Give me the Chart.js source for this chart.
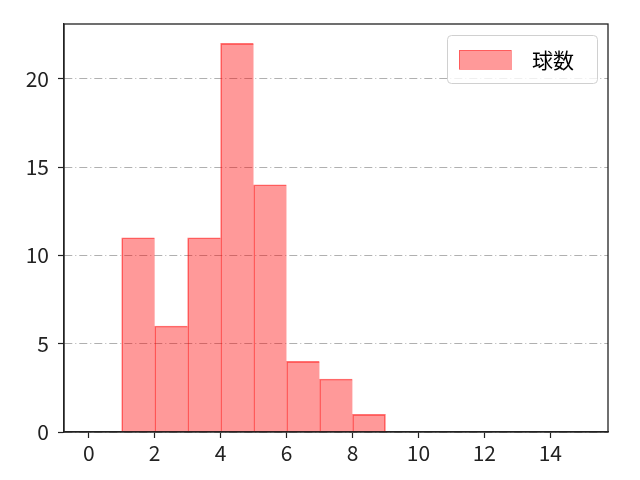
<!DOCTYPE html>
<html><head><meta charset="utf-8">
<script src="https://cdn.jsdelivr.net/npm/chart.js@4"></script>
<style>html,body{margin:0;padding:0;background:#fff}#wrap{width:640px;height:480px}</style>
</head><body><div id="wrap"><canvas id="c" width="640" height="480"></canvas></div>
<script>
const binStarts = [1, 2, 3, 4, 5, 6, 7, 8];
const counts = [11, 6, 11, 22, 14, 4, 3, 1];
const seriesLabel = '球数';
const xTicks = [0, 2, 4, 6, 8, 10, 12, 14];
const yTicks = [0, 5, 10, 15, 20];

const FONT = '"Noto Sans CJK JP", "DejaVu Sans", sans-serif';
const data = binStarts.map((s, i) => ({x: s + 0.5, y: counts[i]}));

const legendPlugin = {
  id: 'boxLegend',
  afterDraw(chart) {
    const ctx = chart.ctx;
    const x = 447, y = 35, w = 150, h = 48;
    ctx.save();
    ctx.beginPath();
    ctx.roundRect(x + 0.5, y + 0.5, w, h, 4);
    ctx.fillStyle = 'rgba(255,255,255,0.8)';
    ctx.fill();
    ctx.strokeStyle = '#d0d0d0';
    ctx.lineWidth = 1;
    ctx.stroke();
    ctx.fillStyle = 'rgba(255,0,0,0.4)';
    ctx.fillRect(459, 50, 52, 19);
    ctx.strokeStyle = 'rgba(255,0,0,0.4)';
    ctx.strokeRect(459.5, 50.5, 52, 19);
    ctx.fillStyle = '#000';
    ctx.font = '21px ' + FONT;
    ctx.textBaseline = 'middle';
    ctx.fillText(seriesLabel, 532, 60);
    ctx.restore();
  }
};

const n = counts.length;
new Chart(document.getElementById('c'), {
  type: 'bar',
  data: {
    datasets: [{
      label: seriesLabel,
      data: data,
      backgroundColor: 'rgba(255,0,0,0.4)',
      borderColor: 'rgba(255,0,0,0.55)',
      borderWidth: (c) => ({top: 1, left: 1, bottom: 0, right: c.dataIndex === n - 1 ? 1 : 0}),
      borderSkipped: false,
      barPercentage: 1.0,
      categoryPercentage: 1.0
    }]
  },
  options: {
    responsive: false,
    animation: false,
    layout: {padding: {left: 0, right: 32, top: 24, bottom: 0}},
    plugins: {legend: {display: false}, tooltip: {enabled: false}},
    scales: {
      x: {
        type: 'linear',
        offset: false,
        min: -0.75, max: 15.75,
        afterBuildTicks(s) { s.ticks = xTicks.map(v => ({value: v})); },
        afterFit(s) { s.height = 48; },
        grid: {offset: false, drawOnChartArea: false, tickLength: 6, color: '#222', tickWidth: 1.2},
        border: {color: '#222', width: 1.3},
        ticks: {color: '#222', font: {family: FONT, size: 21}, padding: 2, maxRotation: 0}
      },
      y: {
        min: 0, max: 23.1,
        afterBuildTicks(s) { s.ticks = yTicks.map(v => ({value: v})); },
        afterFit(s) { s.width = 64; },
        grid: {color: '#b0b0b0', lineWidth: 1, tickLength: 6, tickColor: '#222', tickWidth: 1.2, tickBorderDash: []},
        border: {color: '#222', width: 1.3, dash: [8, 3, 1, 3]},
        ticks: {color: '#222', font: {family: FONT, size: 21}, padding: 9}
      }
    }
  },
  plugins: [legendPlugin, {
    id: 'frame',
    afterDraw(chart) {
      const a = chart.chartArea, ctx = chart.ctx;
      ctx.save();
      ctx.strokeStyle = '#222';
      ctx.lineWidth = 1.3;
      ctx.setLineDash([]);
      ctx.strokeRect(a.left, a.top, a.right - a.left, a.bottom - a.top);
      ctx.restore();
    }
  }]
});
</script></body></html>
